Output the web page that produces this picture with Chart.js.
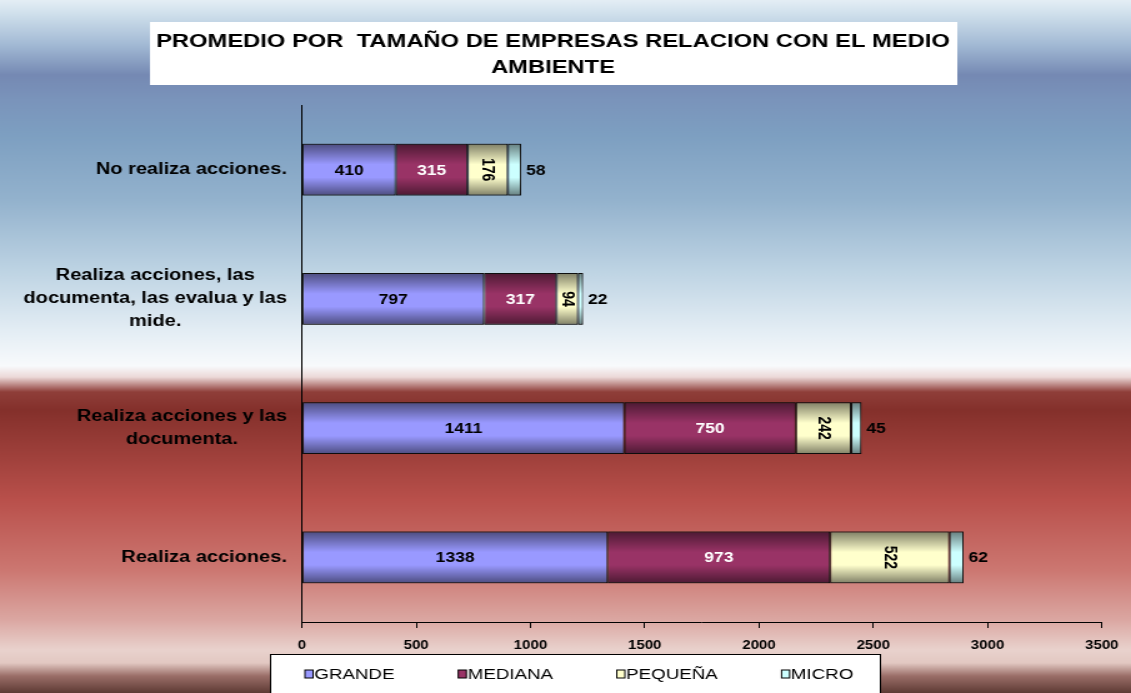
<!DOCTYPE html>
<html>
<head>
<meta charset="utf-8">
<script src="https://cdn.jsdelivr.net/npm/chart.js@4.4.1/dist/chart.umd.min.js"></script>
<style>
  html, body { margin: 0; padding: 0; background: #fff; }
</style>
</head>
<body>
<!-- el lienzo se dibuja más angosto y se estira, como la imagen original -->
<canvas id="grafico" width="905" height="693" style="display:block;width:1131px;height:693px"></canvas>
<script>
// categorías, de arriba hacia abajo
const categorias = [
  'No realiza acciones.',
  ['Realiza acciones, las', 'documenta, las evalua y las', 'mide.'],
  ['Realiza acciones y las', 'documenta.'],
  'Realiza acciones.'
];
const grande  = [410, 797, 1411, 1338];
const mediana = [315, 317, 750, 973];
const pequena = [176, 94, 242, 522];
const micro   = [58, 22, 45, 62];
const marcasX = [0, 500, 1000, 1500, 2000, 2500, 3000, 3500];

const titulo = ['PROMEDIO POR  TAMAÑO DE EMPRESAS RELACION CON EL MEDIO', 'AMBIENTE'];
const series = ['GRANDE', 'MEDIANA', 'PEQUEÑA', 'MICRO'];
const valores = [grande, mediana, pequena, micro];
const colores = ['#9999ff', '#993366', '#ffffcc', '#ccffff'];
// como va la etiqueta de cada serie
const estiloEtiqueta = [
  { color: '#000' },
  { color: '#fff' },
  { color: '#000', rotar: true },
  { color: '#000', fuera: true }
];

const FUENTE = '"Liberation Sans", Arial, sans-serif';
Chart.defaults.font.family = FUENTE;

// degradado del fondo (y en px, color)
const FONDO = [
  [0, '#e4eef5'], [12, '#d2e2ed'], [45, '#a2b9d4'], [75, '#7589b3'], [100, '#7a94bb'],
  [135, '#7d9fc1'], [200, '#93b2cd'], [270, '#bdd3e3'], [330, '#e3edf4'], [366, '#f8fafc'],
  [377, '#ecd9d8'], [392, '#8f3e39'], [410, '#84302b'], [500, '#b9504b'], [570, '#cc7771'],
  [620, '#dba7a2'], [650, '#e9d2cd'], [663, '#e2c8c2'], [676, '#9a6e68'], [693, '#5e3a34']
];

const fondo = {
  id: 'fondo',
  beforeDraw(chart) {
    const { ctx, width, height } = chart;
    const g = ctx.createLinearGradient(0, 0, 0, height);
    FONDO.forEach(([y, c]) => g.addColorStop(y / height, c));
    ctx.save();
    ctx.fillStyle = g;
    ctx.fillRect(0, 0, width, height);
    // recuadro blanco del titulo
    ctx.fillStyle = '#fff';
    ctx.fillRect(120, 22, 646, 63);
    ctx.restore();
  }
};

const barras = {
  id: 'barras',
  afterDatasetsDraw(chart) {
    const ctx = chart.ctx;
    ctx.save();
    // sombreado tipo cilindro sobre cada barra
    chart.data.datasets.forEach((ds, i) => {
      chart.getDatasetMeta(i).data.forEach(bar => {
        const arriba = bar.y - bar.height / 2;
        const g = ctx.createLinearGradient(0, arriba, 0, arriba + bar.height);
        g.addColorStop(0, 'rgba(0,0,0,0.5)');
        g.addColorStop(0.4, 'rgba(0,0,0,0)');
        g.addColorStop(0.65, 'rgba(0,0,0,0)');
        g.addColorStop(1, 'rgba(0,0,0,0.5)');
        ctx.fillStyle = g;
        ctx.fillRect(bar.base, arriba, bar.x - bar.base, bar.height);
      });
    });
    // valores
    ctx.font = 'bold 14px ' + FUENTE;
    ctx.textBaseline = 'middle';
    chart.data.datasets.forEach((ds, i) => {
      const e = estiloEtiqueta[i];
      chart.getDatasetMeta(i).data.forEach((bar, j) => {
        const txt = String(ds.data[j]);
        ctx.fillStyle = e.color;
        if (e.fuera) {
          ctx.textAlign = 'left';
          ctx.fillText(txt, bar.x + 4, bar.y + 1);
        } else if (e.rotar) {
          ctx.save();
          ctx.translate((bar.x + bar.base) / 2, bar.y);
          ctx.rotate(Math.PI / 2);
          ctx.textAlign = 'center';
          ctx.fillText(txt, 0, 0);
          ctx.restore();
        } else {
          ctx.textAlign = 'center';
          ctx.fillText(txt, (bar.x + bar.base) / 2, bar.y + 1);
        }
      });
    });
    ctx.restore();
  }
};

const textos = {
  id: 'textos',
  afterDraw(chart) {
    const ctx = chart.ctx;
    const ejeY = chart.scales.y;
    ctx.save();
    // etiquetas del eje de categorias: bloque a la derecha, lineas centradas
    ctx.font = 'bold 16px ' + FUENTE;
    ctx.fillStyle = '#000';
    ctx.textAlign = 'center';
    ctx.textBaseline = 'middle';
    categorias.forEach((cat, i) => {
      const lineas = Array.isArray(cat) ? cat : [cat];
      const ancho = Math.max(...lineas.map(l => ctx.measureText(l).width));
      const cx = ejeY.right - 12 - ancho / 2;
      const cy = ejeY.getPixelForValue(i);
      lineas.forEach((l, k) => ctx.fillText(l, cx, cy + (k - (lineas.length - 1) / 2) * 23));
    });

    // leyenda
    ctx.fillStyle = '#fff';
    ctx.fillRect(216, 654, 488, 40);
    ctx.strokeStyle = '#000';
    ctx.lineWidth = 1;
    ctx.strokeRect(216.5, 654.5, 488, 40);
    ctx.font = '15px ' + FUENTE;
    ctx.textAlign = 'left';
    let x = 244;
    const y = 674;
    chart.data.datasets.forEach(ds => {
      ctx.fillStyle = ds.backgroundColor;
      ctx.fillRect(x, y - 4, 6.5, 8);
      ctx.strokeRect(x, y - 4, 6.5, 8);
      ctx.fillStyle = '#000';
      ctx.fillText(ds.label, x + 7.5, y + 1);
      x += 7.5 + ctx.measureText(ds.label).width + 51;
    });
    ctx.restore();
  }
};

new Chart(document.getElementById('grafico'), {
  type: 'bar',
  data: {
    labels: categorias,
    datasets: series.map((nombre, i) => ({
      label: nombre,
      data: valores[i],
      backgroundColor: colores[i],
      borderColor: '#1a1a1a',
      borderWidth: 1,
      borderSkipped: false,
      barPercentage: 0.8,
      categoryPercentage: 0.5
    }))
  },
  options: {
    indexAxis: 'y',
    responsive: false,
    animation: false,
    devicePixelRatio: 1,
    layout: { padding: { left: 0, right: 20, top: 0, bottom: 39 } },
    plugins: {
      legend: { display: false },
      tooltip: { enabled: false },
      title: {
        display: true,
        text: titulo,
        color: '#000',
        font: { size: 19, weight: 'bold', lineHeight: 1.37 },
        padding: { top: 29, bottom: 24 }
      }
    },
    scales: {
      x: {
        stacked: true,
        min: 0,
        max: 3500,
        afterBuildTicks(s) { s.ticks = marcasX.map(v => ({ value: v })); },
        afterFit(s) { s.height = 32; },
        ticks: {
          color: '#000',
          font: { size: 12, weight: 'bold' },
          padding: 10,
          callback: v => String(v)
        },
        grid: { drawOnChartArea: false, tickLength: 6, color: '#000' },
        border: { color: '#000' }
      },
      y: {
        stacked: true,
        afterFit(s) { s.width = 241.6; },
        ticks: { display: false },
        grid: { display: false },
        border: { color: '#000' }
      }
    }
  },
  plugins: [fondo, barras, textos]
});
</script>
</body>
</html>
